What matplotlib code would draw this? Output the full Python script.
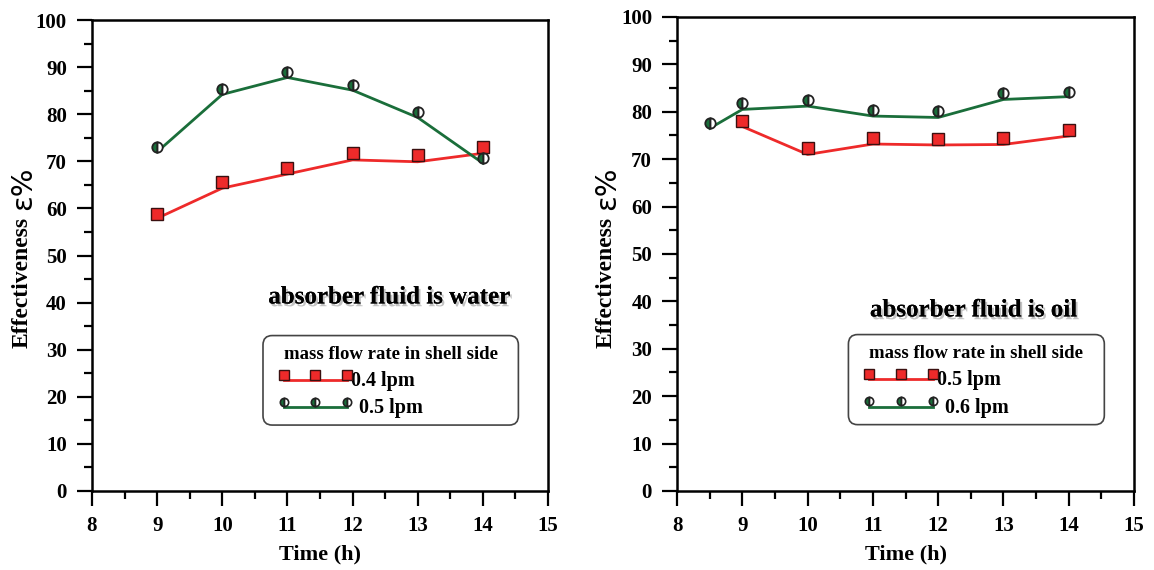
import matplotlib.pyplot as plt
from matplotlib.patches import FancyBboxPatch
from matplotlib.ticker import MultipleLocator
import matplotlib.patheffects as pe

plt.rcParams['font.family'] = ['Liberation Serif', 'DejaVu Serif']
plt.rcParams['font.weight'] = 'bold'

# ------------------- Data (water absorber) -------------------
water_time = [9, 10, 11, 12, 13, 14]
water_04_pts = [58.9, 65.7, 68.5, 71.7, 71.3, 73.1]
water_04_fit = [57.9, 64.3, 67.3, 70.3, 69.9, 71.7]
water_05_pts = [73.1, 85.3, 89.0, 86.2, 80.5, 70.8]
water_05_fit = [72.0, 84.2, 87.8, 85.1, 79.3, 69.6]

# ------------------- Data (oil absorber) -------------------
oil_time_05 = [9, 10, 11, 12, 13, 14]
oil_05_pts = [78.1, 72.3, 74.4, 74.3, 74.4, 76.2]
oil_05_fit = [76.9, 71.0, 73.2, 73.0, 73.1, 74.9]
oil_time_06 = [8.5, 9, 10, 11, 12, 13, 14]
oil_06_pts = [77.7, 81.9, 82.5, 80.4, 80.2, 83.9, 84.2]
oil_06_fit = [76.5, 80.5, 81.2, 79.1, 78.8, 82.6, 83.2]

RED = '#ee2a2a'
GREEN = '#1a6e3a'

fig = plt.figure(figsize=(11.54, 5.70), dpi=100)
ax1 = fig.add_axes([0.0797, 0.1386, 0.3952, 0.8263])
ax2 = fig.add_axes([0.5867, 0.1386, 0.3960, 0.8316])


def style_axes(ax):
    ax.set_xlim(8, 15)
    ax.set_ylim(0, 100)
    ax.xaxis.set_major_locator(MultipleLocator(1))
    ax.xaxis.set_minor_locator(MultipleLocator(0.5))
    ax.yaxis.set_major_locator(MultipleLocator(10))
    ax.yaxis.set_minor_locator(MultipleLocator(5))
    ax.tick_params(which='major', direction='out', length=11, width=1.6, labelsize=15, pad=7)
    ax.tick_params(which='minor', direction='out', length=6, width=1.6)
    for s in ax.spines.values():
        s.set_linewidth(1.8)
    for lab in ax.get_xticklabels() + ax.get_yticklabels():
        lab.set_fontweight('bold')
    ax.set_xlabel('Time (h)', fontsize=16, fontweight='bold', labelpad=6)


def y_label(xpos):
    # y label drawn in two pieces: the epsilon/percent part is set larger, as in the source
    fig.text(xpos, 1 - 282 / 570, 'Effectiveness', rotation=90, ha='center', va='center',
             fontsize=17, fontweight='bold')
    fig.text(xpos + 0.001, 1 - 188 / 570, '\u03b5%', rotation=90, ha='center', va='center',
             fontsize=21, fontweight='normal', family=['DejaVu Sans'])


def plot_series(ax, x, pts, fit, color, kind):
    ax.plot(x, fit, color=color, lw=2, zorder=2)
    if kind == 'sq':
        ax.plot(x, pts, ls='none', marker='s', ms=8, mfc=RED, mec='#3a1010', mew=1, zorder=3)
    else:
        ax.plot(x, pts, ls='none', marker='o', ms=7.5, fillstyle='left', mfc=GREEN,
                mfcalt='white', mec='#222222', mew=1.3, zorder=3)


def draw_legend(ax, labels):
    box = FancyBboxPatch((0.375, 0.14), 0.56, 0.19, boxstyle='round,pad=0,rounding_size=0.02',
                         transform=ax.transAxes, fc='white', ec='#444444', lw=1.2, zorder=4)
    ax.add_patch(box)
    ax.text(0.655, 0.29, 'mass flow rate in shell side', transform=ax.transAxes,
            ha='center', va='center', fontsize=13.5, fontweight='bold', zorder=5)
    xs = [0.421, 0.49, 0.559]
    ax.plot([0.421, 0.559], [0.236, 0.236], transform=ax.transAxes, color=RED, lw=2, zorder=5)
    ax.plot(xs, [0.246] * 3, transform=ax.transAxes, ls='none', marker='s', ms=7,
            mfc=RED, mec='#3a1010', mew=1, zorder=6)
    ax.text(0.568, 0.234, labels[0], transform=ax.transAxes, ha='left', va='center',
            fontsize=14.5, fontweight='bold', zorder=5)
    ax.plot([0.421, 0.559], [0.178, 0.178], transform=ax.transAxes, color=GREEN, lw=2, zorder=5)
    ax.plot(xs, [0.189] * 3, transform=ax.transAxes, ls='none', marker='o', ms=6,
            fillstyle='left', mfc=GREEN, mfcalt='white', mec='#222222', mew=1.2, zorder=6)
    ax.text(0.586, 0.176, labels[1], transform=ax.transAxes, ha='left', va='center',
            fontsize=14.5, fontweight='bold', zorder=5)


shadow = [pe.withSimplePatchShadow(offset=(1.5, -2), shadow_rgbFace='#888888', alpha=0.5), pe.Normal()]

# ------------------- Left: water -------------------
style_axes(ax1)
plot_series(ax1, water_time, water_04_pts, water_04_fit, RED, 'sq')
plot_series(ax1, water_time, water_05_pts, water_05_fit, GREEN, 'o')
ax1.text(0.651, 0.412, 'absorber fluid is water', transform=ax1.transAxes, ha='center', va='center',
         fontsize=18, fontweight='bold', path_effects=shadow)
draw_legend(ax1, ['0.4 lpm', '0.5 lpm'])
y_label(22 / 1154)

# ------------------- Right: oil -------------------
style_axes(ax2)
plot_series(ax2, oil_time_05, oil_05_pts, oil_05_fit, RED, 'sq')
plot_series(ax2, oil_time_06, oil_06_pts, oil_06_fit, GREEN, 'o')
ax2.text(0.648, 0.382, 'absorber fluid is oil', transform=ax2.transAxes, ha='center', va='center',
         fontsize=18, fontweight='bold', path_effects=shadow)
draw_legend(ax2, ['0.5 lpm', '0.6 lpm'])
y_label(606 / 1154)

fig.savefig('out.png', dpi=100)
